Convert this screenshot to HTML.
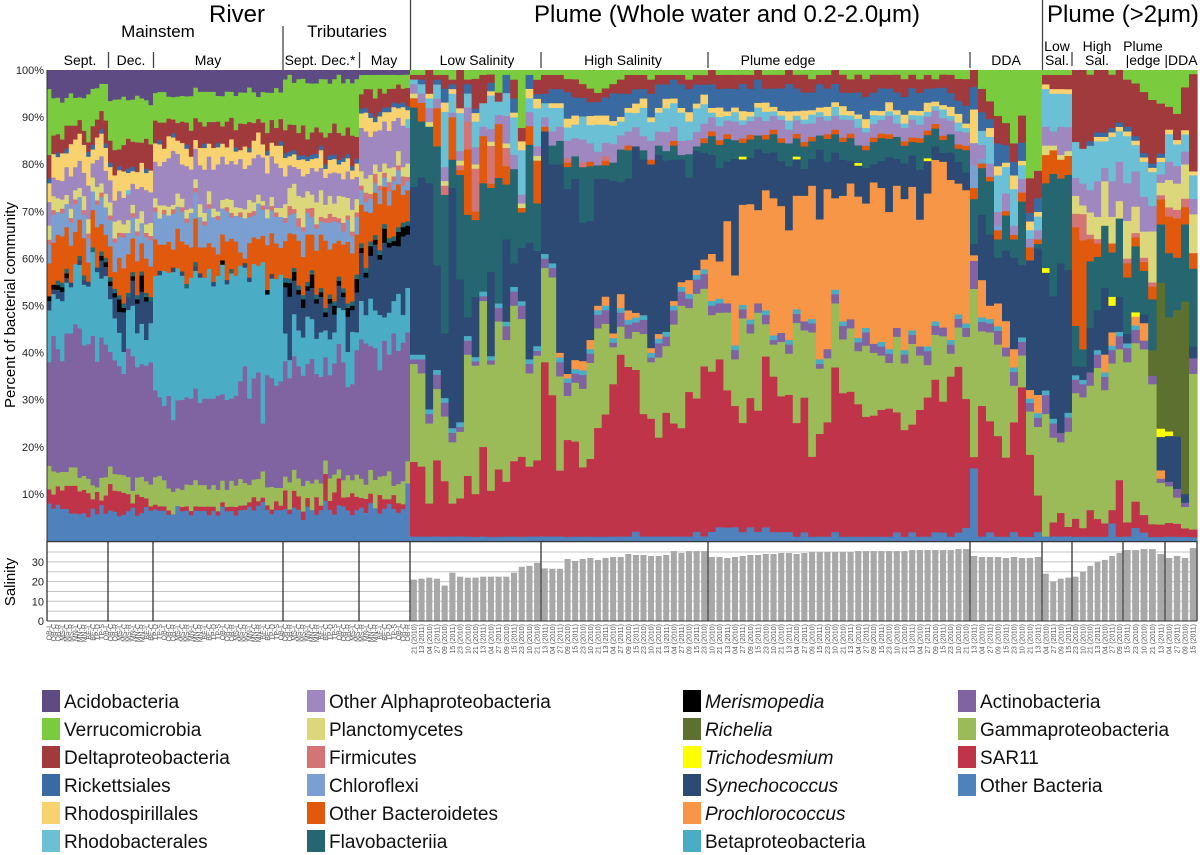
<!DOCTYPE html>
<html><head><meta charset="utf-8">
<style>
html,body{margin:0;padding:0;background:#fff;}
svg{display:block;font-family:"Liberation Sans",Arial,sans-serif;}
</style></head>
<body>
<svg id="chart" width="1200" height="855" viewBox="0 0 1200 855" xmlns="http://www.w3.org/2000/svg">
  <g id="bars"></g>
  <g id="salbars"></g>
  <g id="xlabels"></g>
  <g id="headers">
    <text x="237" y="22" font-size="24" text-anchor="middle">River</text>
    <text x="158" y="37" font-size="17" text-anchor="middle">Mainstem</text>
    <text x="347" y="37" font-size="17" text-anchor="middle">Tributaries</text>
    <text x="727" y="22" font-size="24" text-anchor="middle">Plume (Whole water and 0.2-2.0μm)</text>
    <text x="1047" y="22" font-size="24">Plume (&gt;2μm)</text>
    <g font-size="14" text-anchor="middle">
      <text x="80" y="65">Sept.</text>
      <text x="131" y="65">Dec.</text>
      <text x="208" y="65">May</text>
      <text x="320" y="65">Sept. Dec.*</text>
      <text x="384" y="65">May</text>
      <text x="477" y="65">Low Salinity</text>
      <text x="623" y="65">High Salinity</text>
      <text x="778" y="65">Plume edge</text>
      <text x="1006" y="65">DDA</text>
      <text x="1057" y="51">Low</text>
      <text x="1057" y="65">Sal.</text>
      <text x="1097" y="51">High</text>
      <text x="1097" y="65">Sal.</text>
      <text x="1143" y="51">Plume</text>
      <text x="1143" y="65">|edge</text>
      <text x="1181" y="65">|DDA</text>
    </g>
    <g stroke="#444" stroke-width="1.3">
      <line x1="410.5" y1="0" x2="410.5" y2="70"/>
      <line x1="1042.5" y1="0" x2="1042.5" y2="70"/>
      <line x1="283" y1="26" x2="283" y2="70"/>
      <line x1="108.5" y1="52" x2="108.5" y2="68"/>
      <line x1="153.5" y1="52" x2="153.5" y2="68"/>
      <line x1="359.5" y1="52" x2="359.5" y2="68"/>
      <line x1="541" y1="52" x2="541" y2="68"/>
      <line x1="708" y1="52" x2="708" y2="68"/>
      <line x1="970" y1="52" x2="970" y2="68"/>
      <line x1="1072" y1="52" x2="1072" y2="66"/>
    </g>
  </g>
  <g id="yaxis"></g>
  <text transform="translate(15,305) rotate(-90)" font-size="15" text-anchor="middle">Percent of bacterial community</text>
  <text transform="translate(15,582) rotate(-90)" font-size="15" text-anchor="middle">Salinity</text>
  <g id="legend"></g>
</svg>
<script>
const ob=[8,7,8,7,7,6,6,6,6,5,7,6,8,6, 7,7,6,6,7,8,6,7,8,7, 7,7,7,6,6,8,7,7,6,7,7,7,6,7,6,8,7,7,6,7,7,8,7,8,9,7,6,7,7, 7,6,8,7,5,8,7,6,7,9,7,6,8,8,7,6,7, 7,6,8,7,6,7,8,7,6,7,13,
1,1,1,1,1,1,1,1,1,1,1,1,1,1,1,1,1, 1,1,1,1,1,1,1,1,1,1,1,1,2,1,1,1,1,1,1,1,2,1,
2,3,3,3,2,3,2,3,2,2,2,1,2,1,1,1,2,1,1,1,1,1,1,1,2,1,2,1,1,2,2,1,2,3, 13,1,2,1,1,2,1,1,2, 1,1,1,1, 1,1,1,1,1,4,1, 1,3,2,1,1, 1,1,1,1];
const sar11=[3,3,4,4,5,6,6,5,5,5,2,5,1,4, 6,5,6,5,4,1,5,4,2,1, 1,1,1,1,0,0,1,1,1,1,1,1,2,1,1,1,1,1,2,1,1,1,3,1,1,1,1,2,1, 4,1,4,3,2,2,0,4,1,6,2,5,6,2,3,5,3, 2,3,2,0,4,2,1,3,2,1,0,
16,15,7,16,12,7,8,13,10,19,11,15,12,16,18,15,16, 37,30,14,22,21,15,17,24,27,33,39,36,34,26,25,21,26,24,23,31,28,35,
34,36,30,26,24,28,26,37,34,30,30,25,30,18,22,25,36,32,32,30,27,27,28,28,27,24,24,28,30,34,30,35,38,29, 2,28,25,22,18,24,33,19,8, 0,3,5,2, 4,2,6,4,3,3,13, 3,6,4,3,3, 3,3,2,2];
const gamma=[5,5,3,4,3,4,4,3,3,3,3,1,5,4, 4,4,4,4,4,3,4,5,4,5, 6,7,6,5,5,4,4,5,6,6,5,5,4,5,5,5,4,6,5,6,5,4,4,5,6,4,5,3,4, 3,6,5,4,6,4,6,4,5,3,5,4,2,4,5,3,5, 4,3,5,6,4,5,6,2,4,5,5,
21,20,17,15,14,13,14,26,30,31,30,33,31,33,31,20,22, 20,25,20,10,13,17,21,22,20,8,6,6,8,17,12,17,14,21,26,18,22,16,
12,10,17,10,23,14,21,7,7,12,9,22,15,28,14,14,14,12,14,12,16,14,12,10,17,15,18,12,7,10,15,5,9,14, 30,16,20,20,23,8,7,10,15, 26,18,15,20, 28,30,28,34,30,33,30, 34,36,38,33,10, 8,6,5,40];
const actino=[22,29,27,24,30,29,31,33,28,28,32,28,31,29, 26,27,26,23,30,32,26,28,27,28, 19,18,17,21,16,20,21,20,20,21,19,20,21,20,22,20,21,19,21,22,26,20,23,24,11,25,24,23,24, 25,23,27,25,26,27,28,24,24,23,23,25,28,27,20,22,28, 29,30,26,28,23,29,25,33,28,30,29,
1,3,2,3,3,2,1,3,1,1,1,3,3,3,3,2,1, 2,2,3,3,2,3,2,3,3,1,3,3,2,3,1,3,2,3,3,2,3,3,
2,2,2,2,2,2,2,2,1,2,2,2,2,2,1,2,2,3,2,2,3,2,2,2,2,2,2,2,3,2,2,2,2,2, 5,2,2,3,2,3,3,2,2, 4,3,2,3, 3,3,3,3,3,3,3, 3,3,2,2,1, 1,2,1,4];
const beta=[11,9,11,13,11,10,13,14,13,12,18,20,13,15, 12,10,8,5,9,12,8,10,6,9, 25,28,31,28,33,30,29,25,28,27,29,28,30,26,28,30,27,29,28,26,22,27,26,24,37,18,22,24,24, 6,4,10,8,9,11,9,8,10,6,8,7,8,12,8,12,4, 8,6,10,8,12,5,9,7,12,6,10,
1,1,1,1,1,1,1,1,1,1,1,1,1,1,1,1,1, 1,1,1,1,1,1,1,1,1,1,1,1,1,1,1,1,1,1,1,1,1,1,
1,1,0,1,1,1,0,1,1,0,1,1,0,1,1,0,1,1,0,1,1,0,1,1,0,1,1,0,1,1,0,1,1,1, 0,1,1,1,0,1,1,1,1, 1,1,0,1, 1,1,0,1,1,1,1, 1,1,0,0,0, 0,0,0,0];
const pro=[0,0,0,0,0,0,0,0,0,0,0,0,0,0, 0,0,0,0,0,0,0,0,0,0, 0,0,0,0,0,0,0,0,0,0,0,0,0,0,0,0,0,0,0,0,0,0,0,0,0,0,0,0,0, 0,0,0,0,0,0,0,0,0,0,0,0,0,0,0,0,0, 0,0,0,0,0,0,0,0,0,0,0,
0,0,0,0,0,0,0,0,0,0,0,0,0,0,0,0,0, 0,0,1,1,2,2,2,1,2,1,3,2,1,0,1,1,0,1,1,3,1,2,
10,8,18,15,22,25,20,26,30,28,24,25,28,30,30,35,20,28,30,32,28,36,34,30,32,34,32,28,33,36,38,35,30,30, 1,8,3,5,6,4,0,2,4, 0,0,0,0, 0,0,0,0,4,3,0, 0,2,4,0,2, 0,0,0,0];
const syn=[2,1,2,2,1,1,0,1,1,1,0,1,4,2, 3,5,5,9,3,6,7,8,9,5, 0,1,0,0,1,0,1,0,0,1,1,0,0,1,0,0,1,0,0,0,1,1,0,0,0,0,1,0,0, 10,14,8,8,7,6,7,8,8,3,8,4,5,3,8,5,9, 10,8,9,14,12,16,14,12,10,17,12,
36,38,48,22,14,51,30,4,14,0,20,0,18,5,12,25,20, 26,21,40,42,40,30,26,28,26,33,24,28,35,33,39,38,36,30,26,22,25,22,
21,20,13,25,10,10,13,8,10,10,14,8,6,6,15,6,10,8,5,7,8,4,6,12,6,8,7,11,7,3,2,6,5,4, 2,14,16,10,16,20,16,30,32, 25,26,36,30, 2,3,10,9,15,6,8, 2,0,2,0,8, 10,12,2,3];
const tricho=[0,0,0,0,0,0,0,0,0,0,0,0,0,0, 0,0,0,0,0,0,0,0,0,0, 0,0,0,0,0,0,0,0,0,0,0,0,0,0,0,0,0,0,0,0,0,0,0,0,0,0,0,0,0, 0,0,0,0,0,0,0,0,0,0,0,0,0,0,0,0,0, 0,0,0,0,0,0,0,0,0,0,0,
0,0,0,0,0,0,0,0,0,0,0,0,0,0,0,0,0, 0,0,0,0,0,0,0,0,0,0,0,0,0,0,0,0,0,0,0,0,0,0,
0,0,0,0,0.6,0,0,0,0,0,0,0.6,0,0,0,0,0,0,0,0.6,0,0,0,0,0,0,0,0,0.6,0,0,0,0,0, 0,0,0,0,0,0,0,0,0, 1,0,0,0, 0,0,0,0,0,2,0, 0,1,0,0,2, 1,0,0,0];
const richelia=[0,0,0,0,0,0,0,0,0,0,0,0,0,0, 0,0,0,0,0,0,0,0,0,0, 0,0,0,0,0,0,0,0,0,0,0,0,0,0,0,0,0,0,0,0,0,0,0,0,0,0,0,0,0, 0,0,0,0,0,0,0,0,0,0,0,0,0,0,0,0,0, 0,0,0,0,0,0,0,0,0,0,0,
0,0,0,0,0,0,0,0,0,0,0,0,0,0,0,0,0, 0,0,0,0,0,0,0,0,0,0,0,0,0,0,0,0,0,0,0,0,0,0,
0,0,0,0,0,0,0,0,0,0,0,0,0,0,0,0,0,0,0,0,0,0,0,0,0,0,0,0,0,0,0,0,0,0, 0,0,0,0,0,0,0,0,0, 0,0,0,0, 0,0,0,0,0,0,0, 0,0,0,6,35, 25,29,45,0];
const merismo=[1,1,1,1,1,0,0,0,0,0,0,0,1,1, 1,1,3,1,0,1,1,4,1,0, 0,0,0,0,0,0,0,0,0,0,0,0,0,0,0,1,0,0,0,0,0,0,0,0,0,1,0,0,0, 1,3,2,1,2,1,3,1,1,1,1,2,1,1,2,1,3, 1,1,2,1,1,3,1,1,3,2,2,
0,0,0,0,0,0,0,0,0,0,0,0,0,0,0,0,0, 0,0,0,0,0,0,0,0,0,0,0,0,0,0,0,0,0,0,0,0,0,0,
0,0,0,0,0,0,0,0,0,0,0,0,0,0,0,0,0,0,0,0,0,0,0,0,0,0,0,0,0,0,0,0,0,0, 0,0,0,0,0,0,0,0,0, 0,0,0,0, 0,0,0,0,0,0,0, 0,0,0,0,0, 0,0,0,0];
const flavo=[0,0,1,1,1,0,0,1,1,0,1,0,1,1, 1,1,1,1,1,1,1,1,1,1, 0,0,0,0,0,0,0,1,0,1,0,0,0,0,0,0,0,1,0,0,0,0,0,0,0,0,0,0,0, 1,1,1,1,1,1,1,1,1,1,1,1,1,1,1,1,1, 1,1,1,1,1,1,1,1,1,1,1,
17,12,12,25,30,6,22,22,18,23,20,28,12,20,8,21,10, 0,4,5,5,5,12,12,3,3,4,7,6,0,2,0,2,2,3,1,5,1,2,
4,5,5,4,3,4,3,3,4,4,5,4,5,4,3,5,4,4,5,4,4,5,5,4,5,4,3,6,5,4,3,4,3,5, 8,10,12,4,8,4,14,0,1, 18,26,18,20, 9,4,15,12,14,10,18, 12,15,10,12,14, 14,12,18,20];
const otherBact=[7,9,10,10,9,8,7,8,8,4,8,9,6,5, 7,4,9,8,9,8,8,7,8,7, 8,6,6,7,4,9,7,9,7,10,6,7,6,8,5,6,9,7,8,3,1,8,6,6,6,10,9,8,6, 8,10,8,10,9,11,8,10,12,15,10,13,8,10,14,11,9, 8,12,6,9,10,8,7,10,9,6,7,
2,4,0,8,0,9,1,14,2,10,1,12,4,0,1,4,9, 1,0,0,1,0,0,1,0,1,0,0,1,0,0,1,0,0,1,0,0,0,1,
1,1,1,0,1,1,0,1,1,1,0,1,1,1,0,1,1,1,1,0,1,1,1,1,0,1,1,1,1,1,1,0,1,1, 2,1,1,2,1,1,2,3,1, 6,5,4,4, 22,25,5,3,0,2,0, 3,2,2,3,6, 8,9,4,4];
const chloro=[4,6,5,5,5,5,6,5,5,5,4,5,6,6, 6,7,5,7,5,5,6,5,5,6, 6,6,7,6,8,5,7,5,8,6,7,5,8,7,8,6,7,5,6,8,9,6,5,8,6,6,5,6,7, 4,4,5,3,6,5,4,5,3,4,6,5,4,3,5,4,4, 3,2,3,2,3,2,3,2,3,2,2,
0,0,0,0,0,0,0,0,0,0,0,0,0,0,0,0,0, 0,0,0,0,0,0,0,0,0,0,0,0,0,0,0,0,0,0,0,0,0,0,
0,0,0,0,0,0,0,0,0,0,0,0,0,0,0,0,0,0,0,0,0,0,0,0,0,0,0,0,0,0,0,0,0,0, 4,1,0,1,0,0,0,0,0, 0,0,0,0, 0,0,0,0,0,0,0, 0,0,0,0,0, 0,0,0,0];
const firmic=[1,1,0,1,0,1,1,0,1,1,0,1,1,0, 1,1,1,1,0,1,1,0,1,1, 1,0,1,0,1,0,1,1,0,1,0,1,1,0,1,0,1,1,0,1,0,1,1,0,1,0,1,1,0, 1,2,1,2,1,1,2,1,1,1,2,1,1,2,1,1,1, 1,2,1,2,1,1,2,1,1,2,1,
0,0,0,0,2,0,1,6,10,0,9,0,4,0,0,0,0, 0,0,0,1,0,1,0,0,1,0,0,0,0,0,0,0,0,0,0,0,0,0,
0,0,0,0,0,0,0,0,0,0,0,0,0,0,0,0,0,0,0,0,0,0,0,0,0,0,0,0,0,0,0,0,0,0, 0,0,0,0,0,0,0,0,0, 0,0,0,0, 3,6,1,1,0,0,0, 1,1,1,1,1, 2,2,2,0];
const plancto=[3,3,3,2,2,2,2,2,3,3,3,3,2,3, 3,4,3,2,3,2,3,3,2,3, 2,3,1,2,1,3,2,2,1,2,3,2,3,2,1,2,2,3,2,1,2,3,2,2,1,2,2,1,2, 3,4,6,5,7,4,3,5,6,3,4,3,5,6,4,5,3, 3,3,4,2,3,2,3,2,3,2,3,
1,0,1,0,1,0,1,0,1,0,1,0,1,0,1,0,1, 0,0,0,0,0,0,0,0,0,0,0,0,0,0,0,0,0,0,0,0,0,0,
0,0,0,0,0,0,0,0,0,0,0,0,0,0,0,0,0,0,0,0,0,0,0,0,0,0,0,0,0,0,0,0,0,0, 0,0,0,0,0,0,0,0,0, 2,1,1,1, 4,2,5,5,10,6,4, 8,6,6,12,3, 6,6,8,10];
const otherAlpha=[5,4,4,4,6,7,5,6,5,7,3,6,6,5, 5,5,7,6,6,5,7,6,8,7, 8,9,10,11,12,9,8,10,9,7,9,10,8,9,11,10,8,9,10,11,9,8,10,9,10,8,9,10,9, 6,5,4,6,5,4,6,7,5,6,5,7,5,4,6,7,5, 9,10,8,7,9,9,8,10,7,9,8,
2,2,3,2,3,1,2,3,4,2,3,2,6,3,2,3,2, 2,3,3,4,4,5,4,3,3,4,3,3,4,3,4,3,4,3,3,3,3,3,
3,3,3,4,3,3,4,3,3,4,3,3,4,3,4,3,3,4,3,4,3,3,3,4,3,3,4,3,3,3,4,3,3,3, 4,3,3,3,4,2,3,2,2, 4,3,6,5, 4,5,5,8,3,8,9, 8,8,8,6,2, 4,4,3,4];
const rhodobac=[0,0,0,0,0,0,0,0,0,0,0,0,0,0, 0,0,0,0,1,0,0,0,0,0, 0,0,0,0,0,0,0,0,0,0,0,0,0,0,0,0,0,0,0,0,0,0,0,0,0,0,0,0,0, 0,0,0,0,0,0,0,0,0,0,0,0,0,0,0,0,0, 0,0,0,0,0,0,0,0,0,0,2,
1,2,2,3,12,4,8,3,6,5,8,3,5,8,10,3,8, 3,5,4,3,3,5,4,6,4,4,3,4,3,6,4,4,5,5,6,4,5,4,
1,2,1,2,1,1,2,2,1,1,2,1,1,2,1,1,2,1,1,2,1,2,1,1,2,1,1,2,1,1,2,1,2,1, 0,3,6,8,6,8,3,2,3, 8,8,7,7, 8,8,10,9,6,10,7, 10,6,8,8,3, 6,5,4,6];
const rhodospir=[4,5,5,6,3,7,6,6,6,6,3,5,5,5, 3,6,5,6,4,3,4,6,4,5, 4,5,3,5,3,3,5,4,3,2,4,5,3,5,4,3,4,5,3,2,5,3,4,5,3,4,3,4,5, 4,2,3,2,4,3,2,3,4,2,3,3,2,4,3,2,3, 3,4,4,2,3,2,4,3,2,4,2,
0,0,1,0,2,1,1,0,2,0,1,0,0,1,2,2,2, 0,1,1,2,2,0,2,2,2,1,1,1,2,2,1,1,2,1,1,2,1,2,
1,2,1,1,2,1,1,2,1,1,2,1,2,1,1,2,1,2,1,1,2,1,1,2,1,2,1,1,2,1,1,2,2,1, 6,0,2,2,1,3,1,2,1, 1,1,1,1, 0,0,0,1,1,1,1, 1,1,1,1,1, 1,1,1,1];
const ricketts=[1,0,1,0,1,0,0,0,0,1,1,0,1,1, 1,0,1,0,1,1,0,0,1,0, 0,1,0,0,1,0,0,1,0,0,0,1,0,0,1,0,0,0,1,0,0,1,0,0,0,1,0,0,1, 1,1,1,1,1,1,1,1,1,1,1,1,1,1,1,1,1, 1,1,1,1,1,1,1,1,1,1,1,
0,1,0,1,3,1,0,2,1,0,2,0,4,3,0,3,1, 2,3,3,6,4,4,3,3,4,6,5,3,3,2,5,5,3,4,5,5,4,2,
5,4,5,4,6,5,5,3,4,5,6,5,4,4,5,4,4,3,4,5,5,4,5,3,4,4,5,4,3,3,4,3,3,4, 4,4,2,5,4,3,4,2,3, 0,0,0,0, 0,0,1,1,1,1,1, 1,1,1,1,1, 0,0,0,0];
const delta=[5,4,4,3,5,4,3,3,3,2,4,4,4,5, 5,6,4,6,7,6,7,5,7,6, 5,4,6,4,3,4,5,5,6,5,6,4,5,6,5,4,6,5,4,6,5,6,4,3,5,4,5,4,5, 5,6,6,5,7,4,5,6,3,6,5,7,6,5,6,7,5, 3,4,5,4,5,3,4,3,4,3,4,
1,1,5,1,3,1,8,1,7,6,2,2,0,4,3,0,3, 4,3,3,3,4,3,3,2,2,2,3,4,3,3,3,2,2,1,2,2,2,2,
3,3,3,3,2,3,2,3,3,3,3,3,4,3,2,3,3,4,3,4,4,4,3,3,4,4,3,3,3,2,3,4,5,6, 3,5,4,6,5,4,6,8,6, 2,3,3,3, 16,18,15,14,14,12,12, 10,12,14,15,12, 5,6,10,25];
const verruco=[14,8,8,8,6,7,6,5,7,10,8,7,6,8, 9,12,12,11,9,10,11,11,9,9, 6,7,7,5,5,6,6,6,8,7,7,8,7,7,6,7,7,6,8,7,7,8,7,5,7,9,6,9,6, 11,11,10,12,11,13,11,10,12,13,11,10,13,12,11,12,13, 4,3,3,5,3,4,3,3,2,3,3,
1,1,0,1,1,2,0,2,2,1,1,5,1,2,13,1,2, 1,1,1,2,2,3,4,5,4,3,2,1,1,1,2,1,1,1,1,2,1,1,
0,1,1,1,1,1,0,1,1,1,0,1,1,2,1,1,0,1,2,1,2,1,1,1,1,2,1,2,1,2,1,1,2,2, 0,4,7,10,12,16,10,25,22, 1,1,1,1, 0,0,1,0,0,1,0, 2,3,5,7,8, 8,10,4,1];
const acido=[4,6,6,7,6,5,6,6,6,5,4,4,3,3, 7,7,7,6,7,7,6,7,7,8, 5,5,5,6,6,6,6,6,6,4,5,5,5,5,6,6,5,5,6,5,5,4,5,6,5,5,5,4,5, 2,1,3,2,2,3,3,3,2,2,3,2,1,3,2,3,2, 1,1,1,1,1,1,1,1,1,1,1,
0,0,0,0,0,0,0,0,0,0,0,0,0,0,0,0,0, 0,0,0,0,0,0,0,0,0,0,0,0,0,0,0,0,0,0,0,0,0,0,
0,0,0,0,0,0,0,0,0,0,0,0,0,0,0,0,0,0,0,0,0,0,0,0,0,0,0,0,0,0,0,0,0,0, 0,0,0,0,0,0,0,0,0, 0,0,0,0, 0,0,0,0,0,0,0, 0,0,0,0,0, 0,0,0,0];
const salinity=[0,0,0,0,0,0,0,0,0,0,0,0,0,0, 0,0,0,0,0,0,0,0,0,0, 0,0,0,0,0,0,0,0,0,0,0,0,0,0,0,0,0,0,0,0,0,0,0,0,0,0,0,0,0, 0,0,0,0,0,0,0,0,0,0,0,0,0,0,0,0,0, 0,0,0,0,0,0,0,0,0,0,0,
21,21.5,22,21.5,18,24.5,22.5,22,22,22.5,22.5,22.5,22.5,24.5,27.5,28,29.5,
26.7,26.5,26.5,31.5,30.5,31.5,32,31,32,32.5,32.5,34,33.5,33.5,33,33,33.5,35.5,34.5,35.5,35.5,35.5,
32.5,32.5,32,32.5,33,33.5,33.5,34,34,34.5,34.5,34,34.5,35,35,35,35,35,35,35.5,35.5,35.5,35.5,35.5,35.5,35.5,36,36,36,36,36,36,36.5,36.5,
33,32.5,32.5,32.5,32,32.5,32,32,32.5, 24,20,21.5,22, 22.5,25,28,30,31,33,34.5, 36,36,36.5,36.5,34, 32,33,32,37];
const yTicks=[10,20,30,40,50,60,70,80,90,100];
const salTicks=[0,10,20,30];
const siteCodes=["OB-L","OB-C","OB-R","MS-L","MS-C","MS-R","MN-L","MN-C","MN-R","BE-L","BE-C","TP-D","TP-S"];
const dateCodes=["10 (2010)","21 (2010)","13 (2011)","04 (2010)","27 (2011)","09 (2010)","15 (2011)","23 (2010)"];

const segments=[[47,108,14],[108,153,10],[153,283,29],[283,359,17],[359,410,11],[410,541,17],[541,708,22],[708,970,34],[970,1042,9],[1042,1072,4],[1072,1123,7],[1123,1165,5],[1165,1197,4]];
const series=[["Other Bacteria","#4f81bd",ob],["SAR11","#c0344a",sar11],["Gammaproteobacteria","#9bbb59",gamma],["Actinobacteria","#8064a2",actino],["Betaproteobacteria","#4bacc6",beta],["Prochlorococcus","#f79646",pro],["Synechococcus","#2c4a74",syn],["Trichodesmium","#ffff00",tricho],["Richelia","#5c7030",richelia],["Merismopedia","#000000",merismo],["Flavobacteriia","#256670",flavo],["Other Bacteroidetes","#e0590c",otherBact],["Chloroflexi","#7a9fd0",chloro],["Firmicutes","#d47474",firmic],["Planctomycetes","#dcd77a",plancto],["Other Alphaproteobacteria","#9f87bf",otherAlpha],["Rhodobacterales","#6cc0d6",rhodobac],["Rhodospirillales","#f9d270",rhodospir],["Rickettsiales","#3a6aa2",ricketts],["Deltaproteobacteria","#a03a3d",delta],["Verrucomicrobia","#7acc3e",verruco],["Acidobacteria","#5f4b83",acido]];
const NS="http://www.w3.org/2000/svg";
const Y0=541, YTOP=70;
function yPct(p){return Y0-(p/100)*(Y0-YTOP);}
const S0=621, SPX=1.97;
function ySal(v){return S0-v*SPX;}
const barPos=[];
segments.forEach(s=>{const w=(s[1]-s[0])/s[2];for(let i=0;i<s[2];i++)barPos.push([s[0]+i*w,w]);});
function mk(tag,attrs,parent){const e=document.createElementNS(NS,tag);for(const k in attrs)e.setAttribute(k,attrs[k]);parent.appendChild(e);return e;}

const gBars=document.getElementById('bars');
mk('rect',{x:47,y:YTOP,width:1150,height:Y0-YTOP,fill:'#7acc3e'},gBars);
const nBars=barPos.length;
for(let i=0;i<nBars;i++){
  let total=0; series.forEach(s=>{total+=(s[2][i]||0);});
  if(total<=0) continue;
  let cum=0;
  const [x,w]=barPos[i];
  series.forEach(s=>{
    const v=(s[2][i]||0)/total*100;
    if(v<=0) return;
    const yb=yPct(cum), yt=yPct(cum+v);
    const r=mk('rect',{x:x.toFixed(2),y:yt.toFixed(2),width:(w+0.6).toFixed(2),height:(yb-yt+0.3).toFixed(2),fill:s[1]},gBars);
    
    
    cum+=v;
  });
}
const gY=document.getElementById('yaxis');
mk('line',{x1:47,y1:YTOP,x2:47,y2:Y0,stroke:'#333','stroke-width':1},gY);
yTicks.forEach(t=>{
  const tx=mk('text',{x:44,y:yPct(t)+4,'font-size':11,'text-anchor':'end',fill:'#222'},gY);
  tx.textContent=t+'%';
  
  
});
const gS=document.getElementById('salbars');
mk('rect',{x:47,y:542,width:1150,height:S0-542,fill:'#fff'},gS);
for(let v=5;v<=40;v+=5){mk('line',{x1:47,x2:1197,y1:ySal(v),y2:ySal(v),stroke:'#c4c4c4','stroke-width':1},gS);}
for(let i=0;i<nBars;i++){
  const v=salinity[i]||0; if(v<=0) continue;
  const [x,w]=barPos[i];
  const r=mk('rect',{x:(x+0.8).toFixed(2),y:ySal(v).toFixed(2),width:Math.max(w-1.6,1).toFixed(2),height:(S0-ySal(v)).toFixed(2),fill:'#a8a8a8'},gS);
  
  
}
[47,108,153,283,359,410,541,708,970,1042,1072,1123,1165,1197].forEach(x=>{mk('line',{x1:x,x2:x,y1:541,y2:S0,stroke:'#222','stroke-width':1.2},gS);});
mk('line',{x1:47,x2:1197,y1:541.5,y2:541.5,stroke:'#333','stroke-width':1},gS);
mk('line',{x1:47,x2:1197,y1:S0,y2:S0,stroke:'#333','stroke-width':1},gS);
salTicks.forEach(t=>{
  const tx=mk('text',{x:44,y:ySal(t)+4,'font-size':11,'text-anchor':'end',fill:'#222'},gS);
  tx.textContent=String(t);
  
  
});
const gX=document.getElementById('xlabels');
for(let i=0;i<nBars;i++){
  const [x,w]=barPos[i];
  const lab=i<81?siteCodes[i%siteCodes.length]:dateCodes[i%dateCodes.length];
  const cx=x+w/2+2.5;
  const tx=mk('text',{x:cx.toFixed(1),y:624,'font-size':7,'text-anchor':'end',fill:'#555',transform:'rotate(-90 '+cx.toFixed(1)+' 624)'},gX);
  tx.textContent=lab;
  
  
}
const legendCols=[
 [42,["Acidobacteria","Verrucomicrobia","Deltaproteobacteria","Rickettsiales","Rhodospirillales","Rhodobacterales"]],
 [307,["Other Alphaproteobacteria","Planctomycetes","Firmicutes","Chloroflexi","Other Bacteroidetes","Flavobacteriia"]],
 [683,["Merismopedia","Richelia","Trichodesmium","Synechococcus","Prochlorococcus","Betaproteobacteria"]],
 [958,["Actinobacteria","Gammaproteobacteria","SAR11","Other Bacteria"]]];
const italic=["Merismopedia","Richelia","Trichodesmium","Synechococcus","Prochlorococcus"];
const gL=document.getElementById('legend');
legendCols.forEach(col=>{
  col[1].forEach((name,r)=>{
    const s=series.find(q=>q[0]===name);
    const cy=701+r*28;
    const g=mk('g',{},gL);
    
    
    mk('rect',{x:col[0],y:cy-11,width:18,height:22,fill:s[1]},g);
    const t=mk('text',{x:col[0]+22,y:cy+7,'font-size':19,fill:'#111'},g);
    if(italic.includes(name)) t.setAttribute('font-style','italic');
    t.textContent=name;
  });
});
</script>
</body></html>
